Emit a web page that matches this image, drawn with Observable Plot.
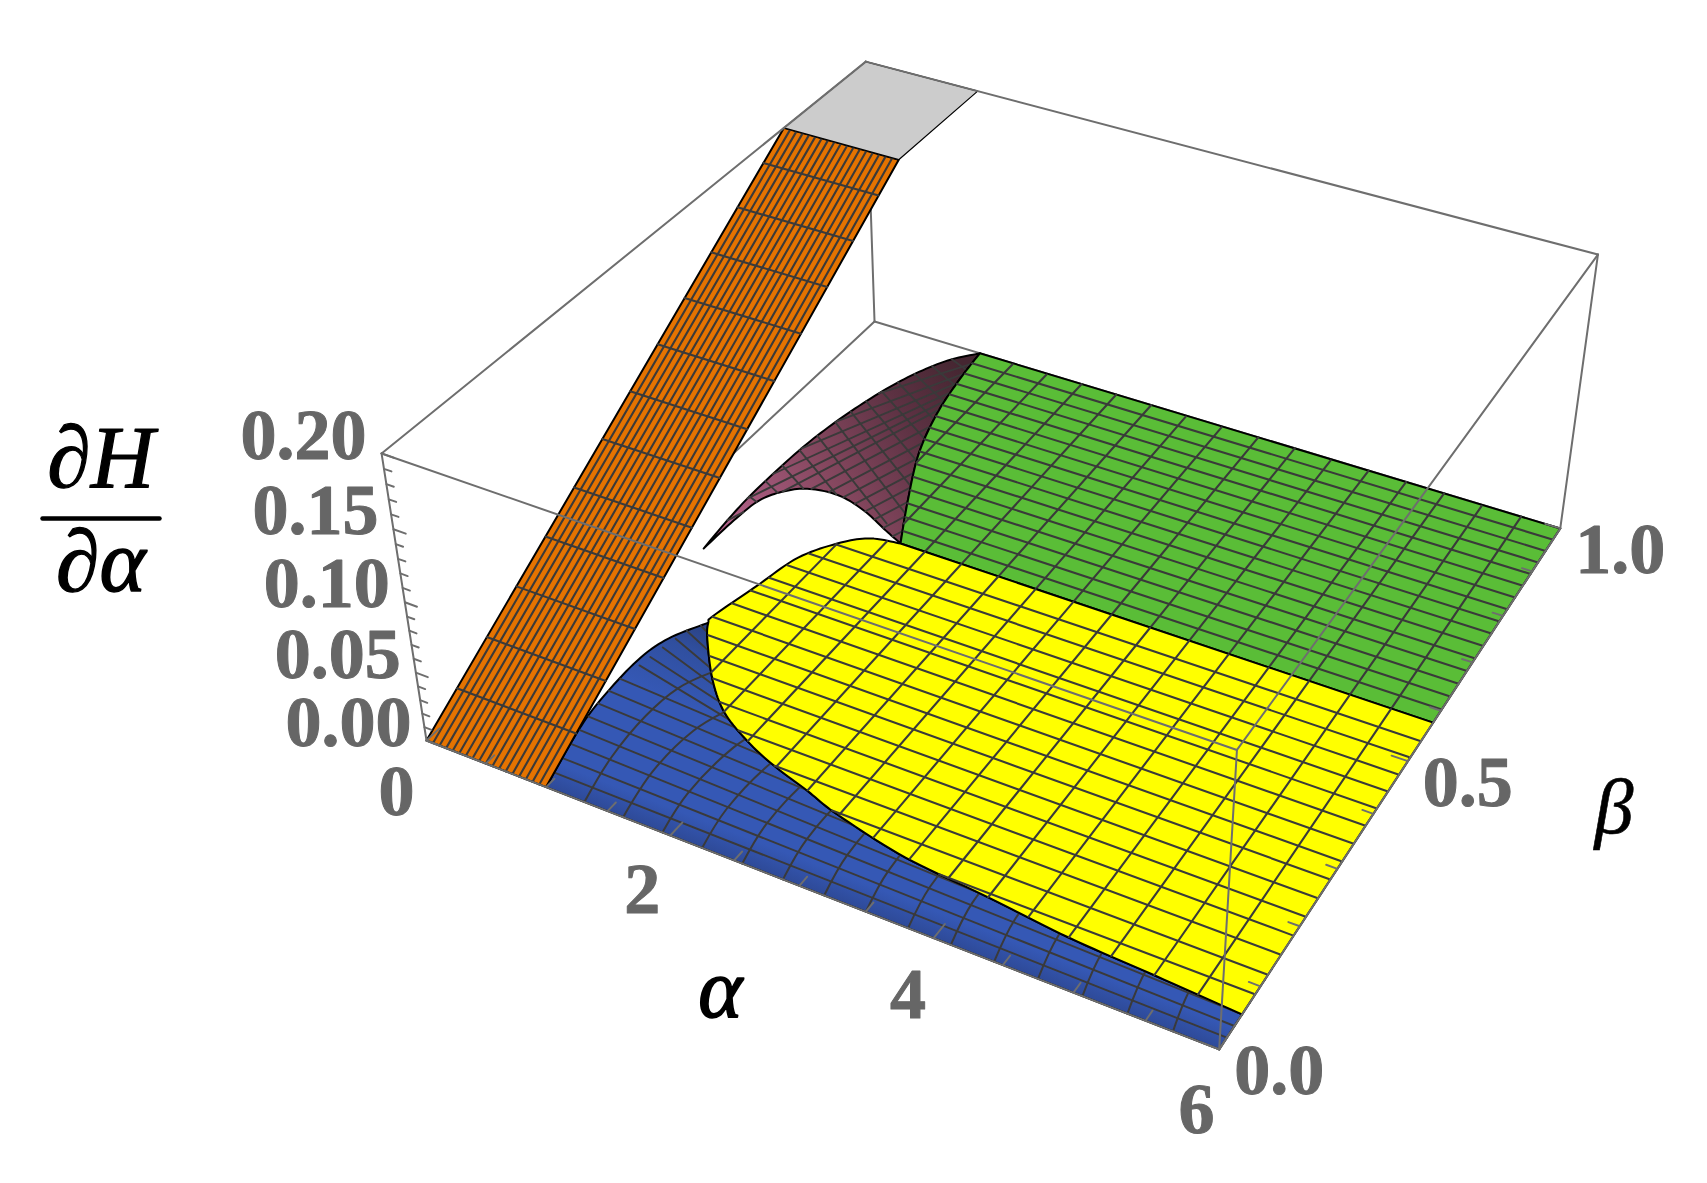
<!DOCTYPE html>
<html>
<head>
<meta charset="utf-8">
<style>html,body{margin:0;padding:0;background:#fff}svg{display:block;background:#fff}</style>
<script src="https://cdn.jsdelivr.net/npm/d3@7"></script>
<script src="https://cdn.jsdelivr.net/npm/@observablehq/plot@0.6"></script>
</head>
<body>
<div id="chart"></div>
<script>
// ---- axis ticks ----
const alphaLabels = [0, 2, 4, 6];
const betaLabels = [0, 0.5, 1];
const zLabels = [0, 0.05, 0.1, 0.15, 0.2];
const alphaTickVals = [0, 0.5, 1, 1.5, 2, 2.5, 3, 3.5, 4, 4.5, 5, 5.5, 6];
const betaTickVals = [0, 0.1, 0.2, 0.3, 0.4, 0.5, 0.6, 0.7, 0.8, 0.9, 1];
const zTickVals = d3.range(0, 21).map(i => i / 100);

// ---- surface outlines as [alpha, beta] on the floor ----
const blueArc = [[1, 0], [0.86, 0.091], [0.80, 0.152], [0.78, 0.233], [0.835, 0.285], [0.986, 0.333]];
const yellowLower = [[0.986, 0.333], [1.093, 0.304], [1.37, 0.245], [1.64, 0.202], [1.95, 0.172], [2.23, 0.152], [2.56, 0.134], [2.87, 0.116], [3.47, 0.0925], [4.13, 0.081], [4.75, 0.0685], [5.38, 0.062], [6, 0.055]];
const yellowUpper = [[1.727, 0.5787], [1.5, 0.57], [1.33, 0.545], [1.147, 0.4935], [1.06, 0.42], [0.975, 0.3477], [0.986, 0.333]];
const greenEdge = [[1.727, 0.5787], [1.503, 0.661], [1.269, 0.756], [1.122, 0.8465], [1.043, 0.929], [1, 1]];
const purpleOuter = [[0.47, 0.4535], [0.43, 0.524], [0.414, 0.587], [0.427, 0.688], [0.475, 0.766], [0.561, 0.844], [0.672, 0.909], [0.822, 0.964], [1, 1]];
const purpleArch = [[0.47, 0.4535], [0.477, 0.52], [0.508, 0.571], [0.614, 0.6035], [0.768, 0.623], [1.008, 0.6286], [1.277, 0.616], [1.55, 0.593], [1.727, 0.5787]];
const yellowRight = [6, 0.576];

// ---- mesh lines ----
const meshAlpha = [1.3125, 1.625, 1.9375, 2.25, 2.5625, 2.875, 3.1875, 3.5, 3.8125, 4.125, 4.4375, 4.75, 5.0625, 5.375, 5.6875];
const yellowBeta = [0.087, 0.119, 0.152, 0.184, 0.216, 0.248, 0.281, 0.313, 0.345, 0.378, 0.41, 0.442, 0.474, 0.507, 0.539];
const greenBeta = [0.6025, 0.629, 0.6555, 0.682, 0.7085, 0.735, 0.7615, 0.788, 0.8145, 0.841, 0.8675, 0.894, 0.9205, 0.947, 0.9735];
const orangeAlpha = d3.range(1, 18).map(k => k / 18);
const orangeBeta = d3.range(1, 13).map(k => k / 16);
const orangeZ = orangeBeta.map(b => b / 4);
const orangeTop = {beta: 0.8, z: 0.2, alpha: 1};
// blue: fan lines from the left arc towards alpha = 6 (the upper ones dive under the yellow sheet)
const fanStart = [[0.963, 0.0245], [0.925, 0.049], [0.89, 0.0735], [0.85, 0.098], [0.83, 0.1225], [0.805, 0.147], [0.795, 0.1715], [0.79, 0.196], [0.824, 0.227], [0.839, 0.246], [0.856, 0.268], [0.882, 0.289], [0.898, 0.308], [0.958, 0.324]];
const fanEnd = [[6, 0.0183], [6, 0.0366], [6, 0.055], [6, 0.073], [6, 0.092], [6, 0.11], [6, 0.128], [6, 0.146], [2.0, 0.184], [1.943, 0.199], [1.892, 0.212], [1.84, 0.226], [1.77, 0.244], [1.707, 0.2606]];
// blue: bow of the crossing arcs (beta, alpha offset)
const bowFirst = [[0, 0], [0.076, -0.10], [0.155, -0.14], [0.213, -0.11], [0.253, -0.01], [0.3, 0.2]];
const bowSecond = [[0, 0], [0.08, -0.085], [0.159, -0.075], [0.202, 0], [0.25, 0.15], [0.3, 0.4]];
const bowRest = [[0, 0], [0.066, -0.065], [0.156, -0.05], [0.2, 0.02], [0.3, 0.3]];
// purple: key lines of the two crossing families
const purpleDownKeys = [[[0.269, 0.582], [0.743, 0.552]], [[0.34, 0.782], [1.70, 0.62]], [[0.66, 0.982], [1.23, 0.941]]];
const purpleUpKeys = [[[1.397, 0.479], [1.741, 0.638]], [[0.388, 0.493], [1.187, 0.8956]], [[0.384, 0.80], [1.147, 1.008]]];

// ---- view of the box, fitted to its eight corners ----
const view = {ax: 656.5, ay: 191.7, bx: 632.9, by: -351.1, cx: -72, cy: -319.2, dx: 426, dy: 740, g: -0.11174, h: 0.21152, k: -0.071};
function project(alpha, beta, z = 0) {
  const u = alpha / 6, v = beta, w = z / 0.2;
  const den = 1 + view.g * u + view.h * v + view.k * w;
  return [(view.ax * u + view.bx * v + view.cx * w + view.dx) / den,
          (view.ay * u + view.by * v + view.cy * w + view.dy) / den];
}
const floorPts = arr => arr.map(([a, b]) => project(a, b, 0));

function spline(pts, steps = 10) {
  const out = [];
  for (let i = 0; i < pts.length - 1; i++) {
    const p0 = pts[Math.max(0, i - 1)], p1 = pts[i], p2 = pts[i + 1], p3 = pts[Math.min(pts.length - 1, i + 2)];
    for (let s = 0; s < steps; s++) {
      const t = s / steps, t2 = t * t, t3 = t2 * t;
      out.push([0, 1].map(d => 0.5 * (2 * p1[d] + (p2[d] - p0[d]) * t + (2 * p0[d] - 5 * p1[d] + 4 * p2[d] - p3[d]) * t2 + (3 * p1[d] - p0[d] - 3 * p2[d] + p3[d]) * t3)));
    }
  }
  out.push(pts[pts.length - 1]);
  return out;
}
const curveOf = arr => spline(floorPts(arr));

// polygons in view space
const yellowPoly = [...spline(floorPts([...yellowUpper, ...yellowLower.slice(1)])), project(...yellowRight)];
const greenPoly = [...curveOf(greenEdge), project(6, 1), project(...yellowRight)];
const bluePoly = [...curveOf(blueArc), ...curveOf(yellowLower), project(6, 0)];
const purplePoly = [...curveOf(purpleOuter), ...curveOf(greenEdge).reverse(), ...curveOf(purpleArch).reverse()];
const orangePoly = [project(0, 0, 0), project(orangeTop.alpha, 0, 0), project(orangeTop.alpha, orangeTop.beta, orangeTop.z), project(0, orangeTop.beta, orangeTop.z)];
const capPoly = [project(0, orangeTop.beta, orangeTop.z), project(orangeTop.alpha, orangeTop.beta, orangeTop.z), project(orangeTop.alpha, 1, orangeTop.z), project(0, 1, orangeTop.z)];

let uid = 0;
const rows = pts => { const id = uid++; return pts.map(([x, y]) => ({x, y, id})); };
const surface = (poly, fill, strokeWidth = 2) => Plot.line(rows(poly), {x: "x", y: "y", curve: "linear-closed", fill, stroke: "#000", strokeWidth, strokeLinejoin: "round"});
const meshColor = "#3a3a3a";
const mesh = (lines, strokeWidth = 2.1, curve = "linear") => Plot.line(lines.flatMap(rows), {x: "x", y: "y", z: "id", stroke: meshColor, strokeWidth, curve});

// keep only the runs of a straight line that lie inside a polygon
function clipTo(poly, p, q, n = 500) {
  const runs = [];
  let run = null;
  for (let i = 0; i <= n; i++) {
    const t = i / n, c = [p[0] + (q[0] - p[0]) * t, p[1] + (q[1] - p[1]) * t];
    if (d3.polygonContains(poly, c)) { run ? run[1] = c : run = [c, c]; }
    else if (run) { runs.push(run); run = null; }
  }
  if (run) runs.push(run);
  return runs;
}
const alphaLines = (poly) => meshAlpha.flatMap(a => clipTo(poly, project(a, 0), project(a, 1)));
const betaLines = (poly, betas) => betas.flatMap(b => clipTo(poly, project(0, b), project(6, b)));
const lerpKey = (k0, k1, t) => [0, 1].map(e => [0, 1].map(d => k0[e][d] + (k1[e][d] - k0[e][d]) * t));
const purpleDown = [
  ...d3.range(0, 5).map(i => lerpKey(purpleDownKeys[0], purpleDownKeys[1], i / 5)),
  ...d3.range(0, 8).map(i => lerpKey(purpleDownKeys[1], purpleDownKeys[2], i / 7))
];
const purpleUp = [
  ...d3.range(0, 8).map(i => lerpKey(purpleUpKeys[0], purpleUpKeys[1], i / 8)),
  ...d3.range(0, 6).map(i => lerpKey(purpleUpKeys[1], purpleUpKeys[2], i / 5))
];
const purpleLines = [...purpleDown, ...purpleUp].flatMap(([p, q]) => clipTo(purplePoly, project(...p), project(...q)));

const blueFan = fanStart.map((s, i) => [project(s[0], s[1]), project(fanEnd[i][0], fanEnd[i][1])]);
const blueArcs = meshAlpha.map((a, i) => (i === 0 ? bowFirst : i === 1 ? bowSecond : bowRest).map(([b, d]) => project(a + d, b)));

const orangeLines = [
  ...orangeAlpha.map(a => [project(a, 0, 0), project(a, orangeTop.beta, orangeTop.z)]),
  ...orangeBeta.map((b, i) => [project(0, b, orangeZ[i]), project(orangeTop.alpha, b, orangeZ[i])])
];

// box edges
const boxBack = [
  [project(0, 1, 0), project(0, 1, 0.2)],
  [project(0, 1, 0), project(0, 0, 0)],
  [project(0, 1, 0), project(6, 1, 0)]
];
const boxFront = [
  [project(0, 0, 0.2), project(0, 1, 0.2)],
  [project(0, 1, 0.2), project(6, 1, 0.2)],
  [project(6, 1, 0.2), project(6, 1, 0)],
  [project(0, 0, 0), project(0, 0, 0.2)],
  [project(0, 0, 0), project(6, 0, 0)],
  [project(6, 0, 0), project(6, 1, 0)],
  [project(0, 0, 0.2), project(6, 0, 0.2)],
  [project(6, 0, 0.2), project(6, 1, 0.2)],
  [project(6, 0, 0), project(6, 0, 0.2)]
];
const tickMarks = [
  ...alphaTickVals.map(a => [project(a, 0), project(a, a % 2 === 0 ? 0.024 : 0.016)]),
  ...betaTickVals.map(b => [project(6, b), project(6 - (b === 0.5 || b === 1 || b === 0 ? 0.12 : 0.08), b)]),
  ...zTickVals.map((z, i) => [project(0, 0, z), project(i % 5 === 0 ? 0.1 : 0.06, 0, z)])
];

const axisGrey = "#6e6e6e";
const boxLines = (lines, w = 2) => Plot.line(lines.flatMap(rows), {x: "x", y: "y", z: "id", stroke: axisGrey, strokeWidth: w});

const labelFont = {fontFamily: "Liberation Serif", fontWeight: "bold", fontSize: 72, fill: "#666666", stroke: "#666666", strokeWidth: 1, textAnchor: "middle", lineAnchor: "middle"};
const mathFont = {fontFamily: "Liberation Serif", fontStyle: "italic", fill: "#000", textAnchor: "middle", lineAnchor: "middle"};
const at = (p, text) => ({x: p[0], y: p[1], text});

const gradients = () => {
  const defs = d3.create("svg:defs");
  const g1 = defs.append("linearGradient").attr("id", "blueFill").attr("gradientUnits", "userSpaceOnUse")
    .attr("x1", 800).attr("y1", 885).attr("x2", 877).attr("y2", 688);
  [[0, "#2e4a98"], [0.12, "#3558b5"], [0.6, "#3558b5"], [0.85, "#304f9f"], [1, "#2a4080"]].forEach(([o, c]) => g1.append("stop").attr("offset", o).attr("stop-color", c));
  const g2 = defs.append("linearGradient").attr("id", "purpleFill").attr("gradientUnits", "userSpaceOnUse")
    .attr("x1", 725).attr("y1", 535).attr("x2", 965).attr("y2", 370);
  [[0, "#b5638c"], [0.4, "#874860"], [0.75, "#5c3142"], [1, "#452631"]].forEach(([o, c]) => g2.append("stop").attr("offset", o).attr("stop-color", c));
  return defs.node();
};

const zMid = project(0, 0, 0.1), alphaMid = project(3, 0), betaMid = project(6, 0.5);
const fractionBar = [[42, 518], [159, 518]];

const chart = Plot.plot({
  width: 1707, height: 1183,
  margin: 0,
  x: {type: "linear", domain: [0, 1707], range: [0, 1707], axis: null},
  y: {type: "linear", domain: [0, 1183], range: [0, 1183], axis: null},
  marks: [
    gradients,
    boxLines(boxBack),
    surface(purplePoly, "url(#purpleFill)"),
    mesh(purpleLines, 1.9),
    surface(greenPoly, "#5abd37"),
    mesh([...alphaLines(greenPoly), ...betaLines(greenPoly, greenBeta)]),
    surface(bluePoly, "url(#blueFill)"),
    mesh(blueFan, 1.9),
    mesh(blueArcs, 2, "catmull-rom"),
    surface(yellowPoly, "#ffff00"),
    mesh([...alphaLines(yellowPoly), ...betaLines(yellowPoly, yellowBeta)]),
    surface(orangePoly, "#e57300"),
    mesh(orangeLines, 2.1),
    surface(capPoly, "#cccccc", 1.2),
    boxLines(boxFront),
    boxLines(tickMarks, 1.9),
    Plot.text(zLabels.map(z => at(project(0, 0, z), d3.format(".2f")(z))), {x: "x", y: "y", text: "text", ...labelFont, dx: -78, dy: -18}),
    Plot.text(alphaLabels.map(a => at(project(a, -0.06), String(a))), {x: "x", y: "y", text: "text", ...labelFont, dx: 3, dy: 21}),
    Plot.text(betaLabels.map(b => at(project(6, b), d3.format(".1f")(b))), {x: "x", y: "y", text: "text", ...labelFont, dx: 60, dy: 22}),
    Plot.text([at(alphaMid, "α")], {x: "x", y: "y", text: "text", ...mathFont, fontSize: 84, stroke: "#000", strokeWidth: 1.6, dx: -79, dy: 104}),
    Plot.text([at(betaMid, "β")], {x: "x", y: "y", text: "text", ...mathFont, fontSize: 78, stroke: "#000", strokeWidth: 0.6, dx: 206, dy: 47}),
    Plot.text([at(zMid, "∂H")], {x: "x", y: "y", text: "text", ...mathFont, fontSize: 88, stroke: "#000", strokeWidth: 1.2, dx: -304, dy: -143}),
    Plot.text([at(zMid, "∂α")], {x: "x", y: "y", text: "text", ...mathFont, fontSize: 88, stroke: "#000", strokeWidth: 1.4, dx: -304, dy: -39}),
    Plot.line(fractionBar, {x: d => d[0], y: d => d[1], stroke: "#000", strokeWidth: 4.5})
  ]
});
document.getElementById("chart").appendChild(chart);
</script>
</body>
</html>
